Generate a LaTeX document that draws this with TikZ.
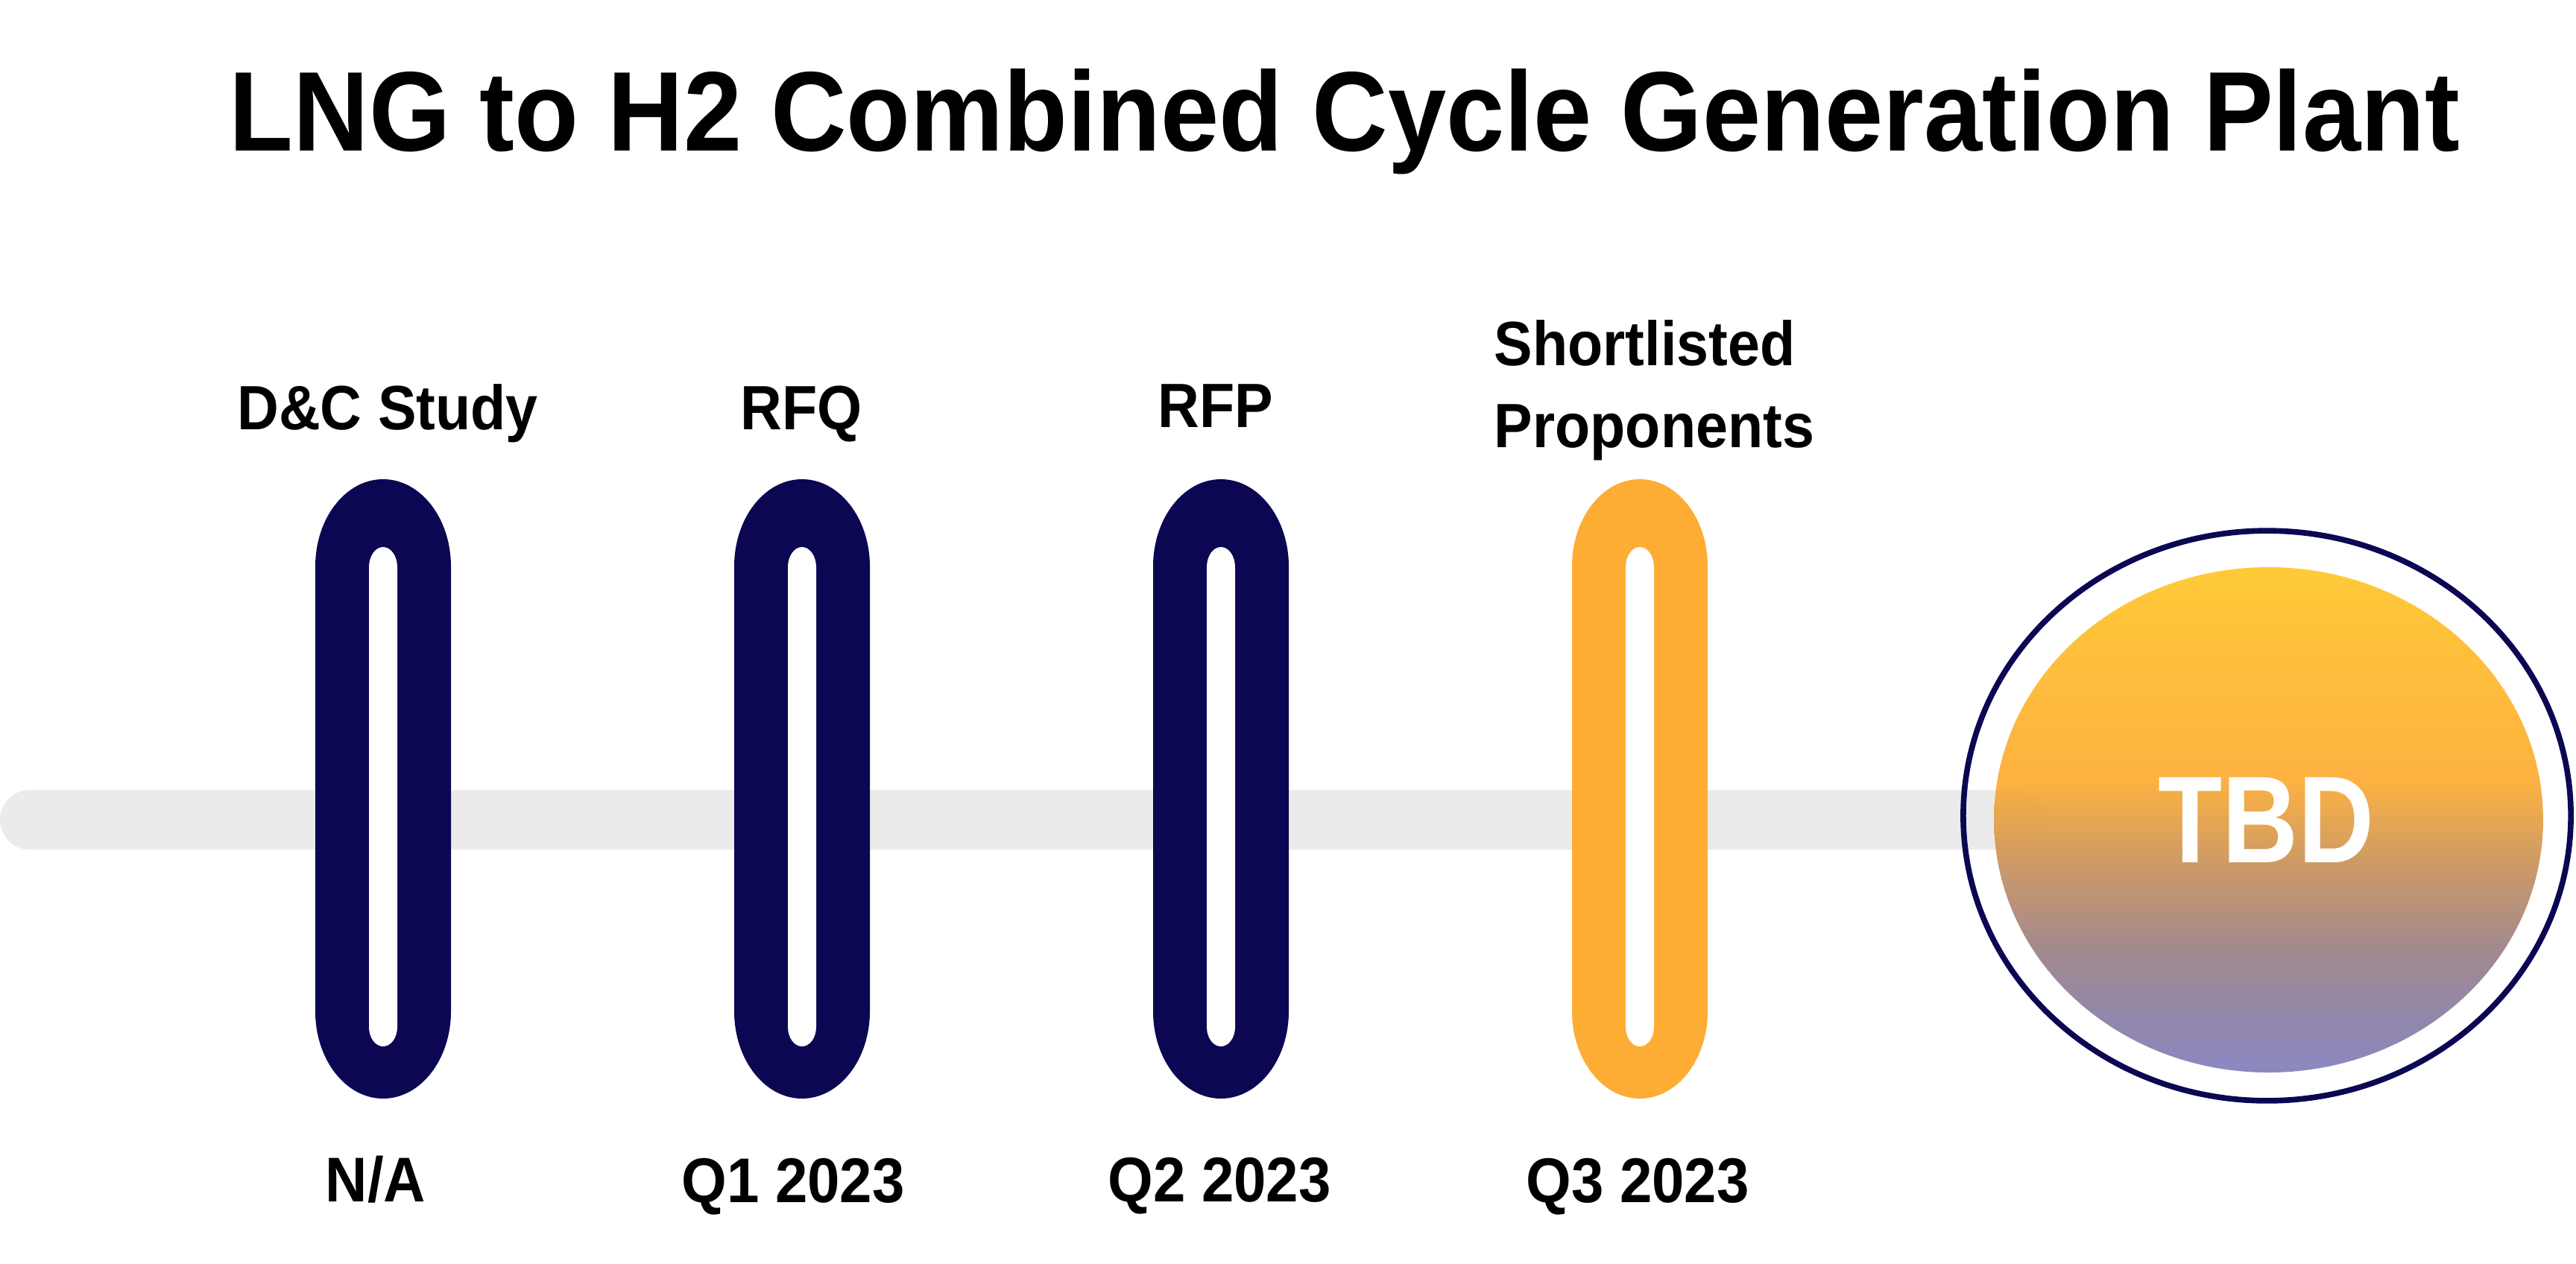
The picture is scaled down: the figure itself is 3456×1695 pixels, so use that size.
\documentclass[tikz,border=0pt]{standalone}
\usepackage{fontspec}
\setmainfont{Liberation Sans}
\newfontfamily\titlefont{Liberation Sans}[FakeStretch=0.925]
\newfontfamily\lblfont{Liberation Sans}[FakeStretch=0.92]
\newfontfamily\tbdfont{Liberation Sans}[FakeStretch=0.85]
\definecolor{navy}{HTML}{0B0753}
\definecolor{pillorange}{HTML}{FDAD33}
\definecolor{bargray}{HTML}{EBEBEB}
\definecolor{gA}{HTML}{FFC629}
\definecolor{gB}{HTML}{FDAC33}
\definecolor{gC}{HTML}{C6915F}
\definecolor{gD}{HTML}{9E8285}
\definecolor{gE}{HTML}{8A7EA2}
\definecolor{gF}{HTML}{8480BD}
\pgfdeclareverticalshading{tbdshade}{100bp}{color(0bp)=(gF); color(25bp)=(gF); color(31bp)=(gE); color(37.5bp)=(gD); color(45bp)=(gC); color(54bp)=(gB); color(75bp)=(gA); color(100bp)=(gA)}
\tikzset{
  toplbl/.style={inner sep=0pt, anchor=base, font=\lblfont\bfseries\fontsize{21pt}{27.5pt}\selectfont},
  botlbl/.style={inner sep=0pt, anchor=base, font=\lblfont\bfseries\fontsize{21.2pt}{26pt}\selectfont},
}
% pill: #1 = center x (px), #2 = colour, #3 = name
\newcommand{\pillshape}[3]{%
  \fill[#2] (#1-91,-760) arc[start angle=180, end angle=0, x radius=22.75pt, y radius=29.25pt]
     -- (#1+91,-1357) arc[start angle=0, end angle=-180, x radius=22.75pt, y radius=29.25pt] -- cycle;
  \fill[white] (#1-19,-761) arc[start angle=180, end angle=0, x radius=4.75pt, y radius=6.75pt]
     -- (#1+19,-1378) arc[start angle=0, end angle=-180, x radius=4.75pt, y radius=6.5pt] -- cycle;
  \coordinate (#3) at (#1,-1058);
}
\begin{document}
\begin{tikzpicture}[x=0.25pt, y=0.25pt]
\useasboundingbox (0,0) rectangle (3456,-1695);
\fill[white] (0,0) rectangle (3456,-1695);
% title
\node[inner sep=0pt, anchor=base, font=\titlefont\bfseries\fontsize{38pt}{46pt}\selectfont] (title) at (1804,-202) {LNG to H2 Combined Cycle Generation Plant};
% timeline bar
\coordinate (barstart) at (40,-1100);
\coordinate (barend) at (2702,-1100);
\draw[bargray, line width=20pt, line cap=round] (barstart) -- (barend);
% pills
\pillshape{514}{navy}{p1}
\pillshape{1076}{navy}{p2}
\pillshape{1638}{navy}{p3}
\pillshape{2200}{pillorange}{p4}
% top labels
\node[toplbl] (l1) at (520,-576) {D\&C Study};
\node[toplbl] (l2) at (1075,-576) {RFQ};
\node[toplbl] (l3) at (1631,-573) {RFP};
\node[toplbl, anchor=base west] (l4a) at (2004,-490) {Shortlisted};
\node[toplbl, anchor=base west] (l4b) at (2004,-600) {Proponents};
% bottom labels
\node[botlbl] (d1) at (504,-1612) {N/A};
\node[botlbl] (d2) at (1064,-1613) {Q1 2023};
\node[botlbl] (d3) at (1636,-1612) {Q2 2023};
\node[botlbl] (d4) at (2197,-1613) {Q3 2023};
% final circle
\draw[navy, line width=1.9pt] (3041.5,-1094.5) ellipse[x radius=101.9pt, y radius=95.6pt];
\path[shading=tbdshade, fill opacity=0.93] (3043.5,-1100) ellipse[x radius=92.1pt, y radius=84.75pt];
\node[inner sep=0pt, anchor=base, text=white, font=\tbdfont\bfseries\fontsize{41.5pt}{50pt}\selectfont] (tbd) at (3040,-1157) {TBD};
\end{tikzpicture}
\end{document}
